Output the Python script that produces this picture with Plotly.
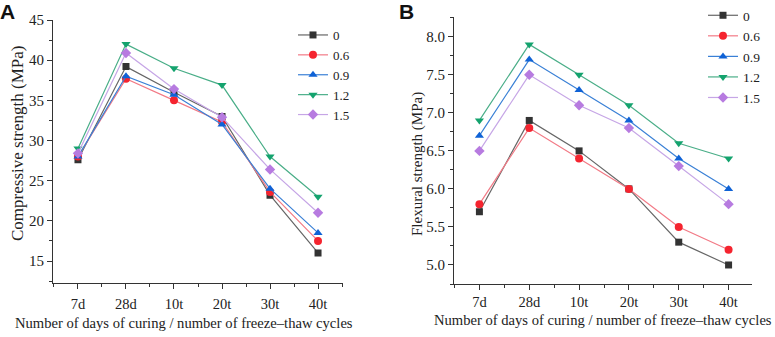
import plotly.graph_objects as go

categories = ["7d", "28d", "10t", "20t", "30t", "40t"]
series_names = ["0", "0.6", "0.9", "1.2", "1.5"]

# Panel A: compressive strength (MPa)
comp_0 = [27.6, 39.2, 36.0, 33.0, 23.2, 16.0]
comp_06 = [28.0, 37.7, 35.0, 32.3, 23.6, 17.5]
comp_09 = [28.0, 38.0, 35.7, 32.0, 24.0, 18.5]
comp_12 = [29.0, 42.0, 39.0, 36.9, 28.0, 23.0]
comp_15 = [28.4, 40.9, 36.4, 32.9, 26.4, 21.0]

# Panel B: flexural strength (MPa)
flex_0 = [5.7, 6.9, 6.5, 6.0, 5.3, 5.0]
flex_06 = [5.8, 6.8, 6.4, 6.0, 5.5, 5.2]
flex_09 = [6.7, 7.7, 7.3, 6.9, 6.4, 6.0]
flex_12 = [6.9, 7.9, 7.5, 7.1, 6.6, 6.4]
flex_15 = [6.5, 7.5, 7.1, 6.8, 6.3, 5.8]

marker_colors = ["#333333", "#f5242f", "#0f62d6", "#14a36e", "#b77be0"]
line_colors = ["#666666", "#f27a86", "#3a80d6", "#4aae88", "#c6a6e6"]
symbols = ["square", "circle", "triangle-up", "triangle-down", "diamond"]
sizes = [7, 8, 8, 8, 8]

comp = [comp_0, comp_06, comp_09, comp_12, comp_15]
flex = [flex_0, flex_06, flex_09, flex_12, flex_15]

SERIF = "Liberation Serif, Times New Roman, serif"
W, H = 775, 337

fig = go.Figure()
xs = list(range(len(categories)))

for i, name in enumerate(series_names):
    fig.add_trace(go.Scatter(
        x=xs, y=comp[i], name=name, mode="lines+markers",
        line=dict(color=line_colors[i], width=1.2),
        marker=dict(symbol=symbols[i], color=marker_colors[i], size=sizes[i]),
        xaxis="x", yaxis="y", legend="legend",
    ))
for i, name in enumerate(series_names):
    fig.add_trace(go.Scatter(
        x=xs, y=flex[i], name=name, mode="lines+markers",
        line=dict(color=line_colors[i], width=1.2),
        marker=dict(symbol=symbols[i], color=marker_colors[i], size=sizes[i]),
        xaxis="x2", yaxis="y2", legend="legend2",
    ))

def px_x(p):
    return p / W

def px_y(p):
    return 1 - p / H

axis_common = dict(
    showline=True, linecolor="#333333", linewidth=1,
    ticks="outside", ticklen=5, tickcolor="#333333", tickwidth=1,
    showgrid=False, zeroline=False, mirror=False,
    tickfont=dict(family=SERIF, size=15, color="#222222"),
)

xaxis_common = dict(axis_common)
xaxis_common.update(
    tickmode="array", tickvals=xs, ticktext=categories,
    minor=dict(ticks="outside", ticklen=3, tickcolor="#333333", dtick=0.5, tick0=0, showgrid=False),
    tickfont=dict(family=SERIF, size=14.5, color="#222222"),
)

fig.update_layout(
    width=W, height=H,
    margin=dict(l=0, r=0, t=0, b=0, autoexpand=False),
    paper_bgcolor="white", plot_bgcolor="white",
    font=dict(family=SERIF, color="#222222"),
    xaxis=dict(xaxis_common, domain=[px_x(53), px_x(343)], range=[-0.52, 5.52], anchor="y",
               ticklabelstandoff=3),
    yaxis=dict(axis_common, domain=[px_y(282.7), px_y(20)], range=[12.3, 45], anchor="x",
               tickmode="linear", tick0=15, dtick=5,
               minor=dict(ticks="outside", ticklen=3, tickcolor="#333333", dtick=2.5, showgrid=False)),
    xaxis2=dict(xaxis_common, domain=[px_x(454), px_x(752)], range=[-0.51, 5.47], anchor="y2",
                ticklabelstandoff=0),
    yaxis2=dict(axis_common, domain=[px_y(284), px_y(17)], range=[4.75, 8.26], anchor="x2",
                tickmode="linear", tick0=5, dtick=0.5, tickformat=".1f",
                minor=dict(ticks="outside", ticklen=3, tickcolor="#333333", dtick=0.25, showgrid=False)),
    legend=dict(x=px_x(293), y=px_y(20), xanchor="left", yanchor="top",
                bgcolor="rgba(0,0,0,0)", font=dict(family=SERIF, size=13, color="#222222"),
                itemwidth=30),
    legend2=dict(x=px_x(703), y=1.0, xanchor="left", yanchor="top",
                 bgcolor="rgba(0,0,0,0)", font=dict(family=SERIF, size=13.5, color="#222222"),
                 itemwidth=30),
    showlegend=True,
)

annotations = [
    dict(text="<b>A</b>", x=0, y=1, xref="paper", yref="paper", xanchor="left", yanchor="top",
         showarrow=False, font=dict(family="Liberation Sans, Arial, sans-serif", size=21, color="#111111"),
         xshift=-2, yshift=2),
    dict(text="<b>B</b>", x=px_x(397), y=1, xref="paper", yref="paper", xanchor="left", yanchor="top",
         showarrow=False, font=dict(family="Liberation Sans, Arial, sans-serif", size=21, color="#111111"),
         yshift=2),
    dict(text="Compressive strength (MPa)", x=px_x(17), y=px_y(144), xref="paper", yref="paper",
         xanchor="center", yanchor="middle",
         textangle=-90, showarrow=False, font=dict(family=SERIF, size=17, color="#222222")),
    dict(text="Flexural strength (MPa)", x=px_x(418), y=px_y(164), xref="paper", yref="paper",
         xanchor="center", yanchor="middle",
         textangle=-90, showarrow=False, font=dict(family=SERIF, size=15, color="#222222")),
    dict(text="Number of days of curing / number of freeze\u2013thaw cycles", x=px_x(184), y=px_y(323),
         xref="paper", yref="paper", xanchor="center", yanchor="middle",
         showarrow=False, font=dict(family=SERIF, size=14.6, color="#222222")),
    dict(text="Number of days of curing / number of freeze\u2013thaw cycles", x=px_x(603), y=px_y(320),
         xref="paper", yref="paper", xanchor="center", yanchor="middle",
         showarrow=False, font=dict(family=SERIF, size=14.6, color="#222222")),
]
fig.update_layout(annotations=annotations)

fig.write_html("out.html", config={"displayModeBar": False},
               post_script="document.body.style.margin='0';document.body.style.padding='0';")
